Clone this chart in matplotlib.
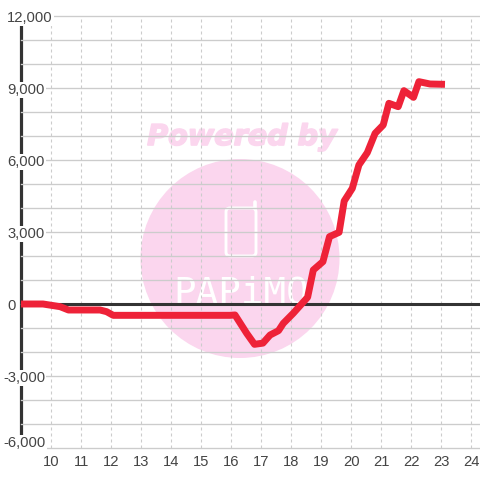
import matplotlib
matplotlib.use("Agg")
import matplotlib.pyplot as plt
import matplotlib.patheffects as pe
from matplotlib.patches import Circle, FancyBboxPatch
from matplotlib.lines import Line2D
from matplotlib.transforms import Affine2D

hours = [9.0, 9.75, 10.32, 10.6, 11.65, 11.87, 12.09, 15.98, 16.15, 16.54, 16.8, 17.08,
         17.32, 17.6, 17.76, 18.09, 18.57, 18.76, 19.08, 19.3, 19.62, 19.79, 20.06,
         20.28, 20.56, 20.82, 21.09, 21.28, 21.59, 21.78, 22.1, 22.28, 22.65, 23.15]
profit = [0, 0, -111, -250, -250, -319, -472, -472, -458, -1222, -1680, -1630,
          -1292, -1111, -806, -389, 280, 1417, 1764, 2806, 2986, 4292, 4819,
          5792, 6306, 7111, 7458, 8361, 8222, 8889, 8611, 9264, 9167, 9153]
x_ticks = list(range(10, 25))
y_ticks = [-6000, -3000, 0, 3000, 6000, 9000, 12000]
y_minor = [-5000, -4000, -2000, -1000, 1000, 2000, 4000, 5000, 7000, 8000, 10000, 11000]
y_labels = ["-6,000", "-3,000", "0", "3,000", "6,000", "9,000", "12,000"]

plt.rcParams['font.family'] = ['Liberation Sans', 'DejaVu Sans']
TXT = '#444444'
GRID = '#CCCCCC'
PINK = '#FBD6EE'

fig = plt.figure(figsize=(4.8, 4.8), dpi=100, facecolor='white')
ax = fig.add_axes([20.5/480, 32/480, 459.5/480, 432/480], facecolor='white')
ax.set_xlim(9, 9 + 459.5/30)
ax.set_ylim(-6000, 12000)
ax.set_axisbelow(True)

for s in ['top', 'right', 'bottom']:
    ax.spines[s].set_visible(False)
ax.spines['left'].set_linewidth(2.3)
ax.spines['left'].set_color('#333333')
ax.spines['left'].set_zorder(0.3)

# watermark, in pixels from the top-left corner
px = Affine2D().scale(1, -1).translate(0, 480)
ax.add_patch(Circle((240, 258.5), 99.5, fc=PINK, ec='none', transform=px, clip_on=False, zorder=0.1))
ax.add_patch(FancyBboxPatch((229, 211), 24, 42, boxstyle='round,pad=3,rounding_size=4', fc='none', ec='white',
                            lw=2.1, transform=px, clip_on=False, zorder=0.12))
ax.add_line(Line2D([254.5, 254.5], [201.5, 209], color='white', lw=2.6, solid_capstyle='round', transform=px, clip_on=False, zorder=0.12))
ax.text(242, 145, "Powered by", transform=px, ha='center', va='baseline', color=PINK, fontsize=20.6,
        family='DejaVu Sans', weight='bold', style='oblique', zorder=0.12,
        path_effects=[pe.withStroke(linewidth=1.2, foreground=PINK)])
ax.text(241, 304, "PAPiMO", transform=px, ha='center', va='baseline', color='white', fontsize=27,
        family='DejaVu Sans Mono', zorder=0.12)

ax.set_xticks(x_ticks)
ax.set_yticks(y_ticks, y_labels)
ax.set_yticks(y_minor, minor=True)
ax.tick_params(axis='both', which='both', length=0)
ax.tick_params(axis='x', labelsize=10.6, labelcolor=TXT, pad=5)
ax.tick_params(axis='y', labelsize=10.6, labelcolor=TXT, pad=0)
ax.xaxis.grid(True, color=GRID, lw=0.8, linestyle=(0, (2.7, 2.7)))
ax.yaxis.grid(True, which='both', color=GRID, lw=0.95)
for t in ax.yaxis.get_major_ticks() + ax.yaxis.get_minor_ticks():
    t.gridline.set_clip_on(False)

for lab in ax.get_xticklabels():
    lab.set_transform(lab.get_transform() + Affine2D().translate(0.8, 0))

for lab, v in zip(ax.get_yticklabels(), y_ticks):
    lab.set_ha('left')
    left = 3 if v < 0 else 7
    dy = 6.5 if v == -6000 else -0.5
    lab.set_transform(lab.get_transform() + Affine2D().translate(left - 20.5, dy))
    lab.set_bbox(dict(fc='white', ec='none', pad=1.0))
    lab.set_clip_on(False)

ax.axhline(0, color='#333333', lw=2.2, zorder=2)
ax.plot(hours, profit, color='#EE2238', lw=5.0, solid_capstyle='butt', solid_joinstyle='round', zorder=3)

fig.savefig('out.png', dpi=100)
